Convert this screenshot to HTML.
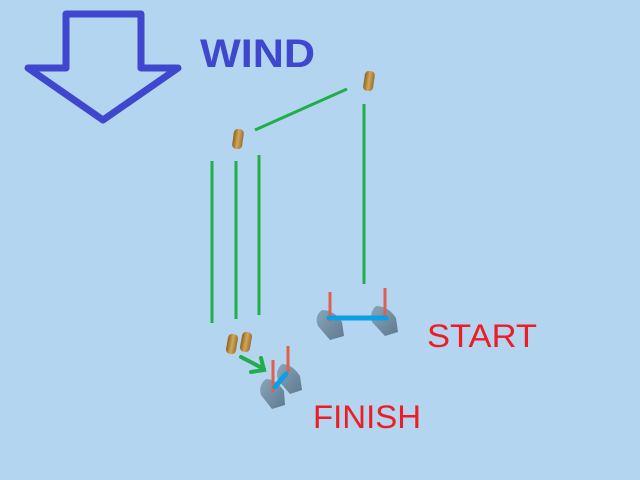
<!DOCTYPE html>
<html><head><style>html,body{margin:0;padding:0;background:#b3d5ef;overflow:hidden;width:640px;height:480px;}svg{display:block;}</style></head>
<body>
<svg width="640" height="480" viewBox="0 0 640 480" xmlns="http://www.w3.org/2000/svg">
<defs>
<linearGradient id="cork" x1="0" x2="1" y1="0" y2="0">
<stop offset="0" stop-color="#8a6420"/><stop offset="0.5" stop-color="#d4a65a"/><stop offset="1" stop-color="#9a7030"/>
</linearGradient>
<linearGradient id="hull" x1="0" x2="1" y1="0" y2="1">
<stop offset="0" stop-color="#8aa4b8"/><stop offset="1" stop-color="#5e7a90"/>
</linearGradient>
</defs>
<rect width="640" height="480" fill="#b3d5ef"/>
<polygon points="66,14 141,14 141,68 178,68 103,120 28,68 66,68" fill="none" stroke="#4047cf" stroke-width="7" stroke-linejoin="round"/>
<text x="200" y="67" font-family="Liberation Sans, sans-serif" font-weight="bold" font-size="40" fill="#4047cf" textLength="115" lengthAdjust="spacingAndGlyphs">WIND</text>
<g stroke="#1fae4a" stroke-width="3">
<line x1="255" y1="130" x2="347" y2="89"/>
<line x1="364" y1="104" x2="364" y2="284"/>
<line x1="212" y1="161" x2="212" y2="323"/>
<line x1="236" y1="161" x2="236" y2="319"/>
<line x1="259" y1="155" x2="259" y2="315"/>
</g>
<g stroke="#1fae4a" stroke-width="4" fill="none" stroke-linecap="round">
<line x1="241" y1="357" x2="264" y2="369"/>
<polyline points="251,372 264,370 261,358"/>
</g>
<g fill="url(#cork)">
<rect x="364" y="71" width="10" height="20" rx="4" transform="rotate(8 369 81)"/>
<rect x="233" y="129" width="10" height="20" rx="4" transform="rotate(8 238 139)"/>
<rect x="227" y="334" width="10" height="20" rx="4" transform="rotate(10 232 344)"/>
<rect x="241" y="332" width="10" height="20" rx="4" transform="rotate(10 246 342)"/>
</g>
<g fill="url(#hull)">
<path d="M322,310 Q314,316 318,326 L330,340 L344,336 L342,322 Q334,310 322,310Z"/>
<path d="M376,306 Q369,312 372,322 L385,336 L398,332 L396,318 Q388,306 376,306Z"/>
<path d="M282,364 Q275,370 278,380 L290,394 L302,390 L300,376 Q292,364 282,364Z"/>
<path d="M266,379 Q258,385 261,395 L272,409 L285,405 L284,391 Q276,379 266,379Z"/>
</g>
<g stroke="#e06050" stroke-width="3">
<line x1="330" y1="292" x2="330" y2="322"/>
<line x1="385" y1="288" x2="385" y2="318"/>
<line x1="288" y1="346" x2="288" y2="372"/>
<line x1="273" y1="360" x2="273" y2="392"/>
</g>
<g stroke="#0aa0e6" stroke-width="5" stroke-linecap="round">
<line x1="329" y1="318" x2="386" y2="318"/>
<line x1="275" y1="387" x2="286" y2="374"/>
</g>
<text x="427" y="347" font-family="Liberation Sans, sans-serif" font-size="32" fill="#ee1c24" textLength="110" lengthAdjust="spacingAndGlyphs">START</text>
<text x="313" y="428" font-family="Liberation Sans, sans-serif" font-size="32" fill="#ee1c24" textLength="108" lengthAdjust="spacingAndGlyphs">FINISH</text>
</svg>
</body></html>
